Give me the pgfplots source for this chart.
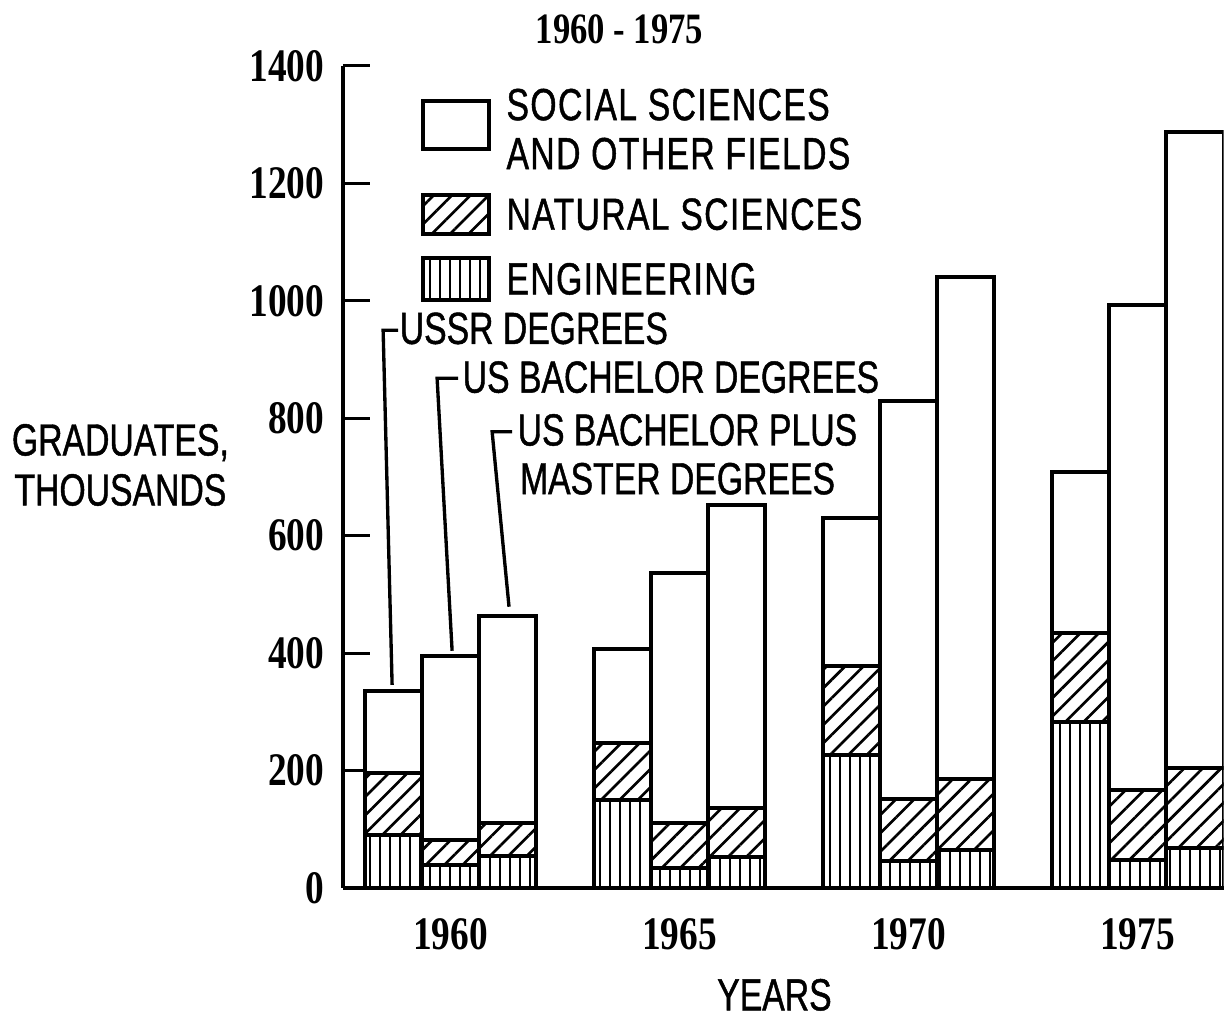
\documentclass[border=0pt]{standalone}
\usepackage{pgfplots}
\usepackage{pgfplotstable}
\pgfplotsset{compat=1.18}
\usepackage{fontspec}
\setmainfont{Liberation Sans}[FakeStretch=0.75, FakeBold=1]
\newfontfamily\legfont{Liberation Sans}[FakeStretch=0.75, FakeBold=1, LetterSpace=3]
\newfontfamily\numfont{Liberation Serif}[FakeStretch=0.8]
\usetikzlibrary{patterns.meta}

\pgfplotsset{
  engimg/.style={legend image code/.code={\draw[##1] (0pt,-6.4pt) rectangle (20pt,6.4pt);}},
  socimg/.style={legend image code/.code={\draw[##1] (0pt,-7.2pt) rectangle (20pt,7.2pt);}},
}

\pgfplotstableread{
x eng nat soc
1 90 106 139
2 40 42 313
3 55 55 353
5 150 97 160
6 34 77 426
7 53 83 516
9 227 151 252
10 46 106 678
11 65 121 855
13 283 151 275
14 48 119 826
15 68 136 1084
}\data

\begin{document}
\begin{tikzpicture}
\begin{axis}[
  at={(0,0)}, anchor=south west,
  x=17.175pt, y=0.176143pt,
  xmin=0.12, xmax=15.5, ymin=0, ymax=1400,
  axis x line*=bottom, axis y line*=left,
  axis line style={line width=1.2pt, -},
  ybar stacked, bar width=1,
  ytick={0,200,...,1400},
  xtick={2,6,10,14}, xticklabels={1960,1965,1970,1975},
  major x tick style={draw=none},
  ytick style={line width=0.9pt, black},
  tick align=inside, major tick length=8.1pt,
  scaled ticks=false,
  /pgf/number format/1000 sep={},
  /pgf/number format/assume math mode=true,
  yticklabel style={font=\numfont\bfseries\fontsize{14}{14}\selectfont, inner sep=0pt, xshift=-5.4pt},
  xticklabel style={font=\numfont\bfseries\fontsize{14}{14}\selectfont, inner sep=0pt, yshift=-9pt},
  title={1960 - 1975},
  every axis title/.style={at={(rel axis cs:0.314,1.044)}, anchor=center, font=\numfont\bfseries\fontsize{13}{13}\selectfont},
  xlabel={YEARS},
  every axis x label/.style={at={(rel axis cs:0.49,-0.130)}, anchor=center, font=\fontsize{13.5}{15}\selectfont},
  ylabel={GRADUATES,\\THOUSANDS},
  every axis y label/.style={at={(rel axis cs:-0.2528,0.5146)}, anchor=center, align=center, font=\fontsize{13.5}{15}\selectfont},
  reverse legend,
  legend style={at={(rel axis cs:0.0873,0.988)}, anchor=north west, draw=none, fill=none,
    inner sep=0pt, row sep=5.9pt, column sep=3.6pt,
    nodes={inner sep=1pt, text depth=}, cells={anchor=west},
    font=\legfont\fontsize{13.5}{14.7}\selectfont},
  legend image code/.code={\draw[#1] (0pt,-5.9pt) rectangle (20pt,5.9pt);},
]
\addplot[draw=black, line width=1.2pt, pattern={Lines[angle=90,distance=3pt,line width=0.8pt]}, engimg] table[x=x,y=eng] {\data};
\addlegendentry{ENGINEERING}
\addplot[draw=black, line width=1.2pt, pattern={Lines[angle=45,distance=3.9pt,line width=0.8pt]}] table[x=x,y=nat] {\data};
\addlegendentry{NATURAL SCIENCES}
\addplot[draw=black, line width=1.2pt, fill=white, socimg] table[x=x,y=soc] {\data};
\addlegendentry{\vbox{\baselineskip=14.7pt\hbox{\rule{0pt}{12.1pt}SOCIAL SCIENCES}\hbox{AND OTHER FIELDS}}}

\draw[line width=1pt] (axis cs:1.083,950) -- (axis cs:0.821,950) -- (axis cs:0.978,346);
\node[anchor=west, inner sep=0pt, font=\fontsize{13.5}{14.7}\selectfont] at (axis cs:1.10,953) {USSR DEGREES};
\draw[line width=1pt] (axis cs:2.131,868) -- (axis cs:1.764,868) -- (axis cs:2.026,404);
\node[anchor=west, inner sep=0pt, font=\fontsize{13.5}{14.7}\selectfont] at (axis cs:2.20,870) {US BACHELOR DEGREES};
\draw[line width=1pt] (axis cs:3.074,777) -- (axis cs:2.725,777) -- (axis cs:3.02,479);
\node[anchor=west, inner sep=0pt, font=\fontsize{13.5}{14.7}\selectfont] at (axis cs:3.16,780) {US BACHELOR PLUS};
\node[anchor=west, inner sep=0pt, font=\fontsize{13.5}{14.7}\selectfont] at (axis cs:3.20,697) {MASTER DEGREES};
\end{axis}
\pgfresetboundingbox
\path (-102.9pt,-38.1pt) rectangle (264.6pt,266.4pt);
\end{tikzpicture}
\end{document}
